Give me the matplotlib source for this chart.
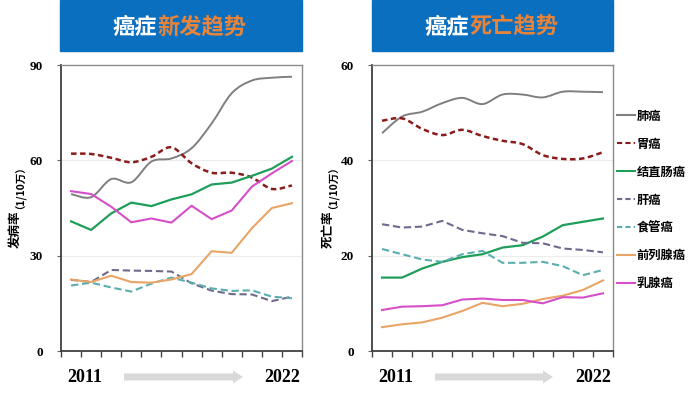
import matplotlib
matplotlib.use("Agg")
import matplotlib.pyplot as plt
import numpy as np
from matplotlib.path import Path
from matplotlib.patches import PathPatch, FancyArrow
from matplotlib.lines import Line2D

plt.rcParams["font.family"] = ["Noto Sans CJK SC", "DejaVu Sans"]

years = list(range(2011, 2023))
cancers = ["肺癌", "胃癌", "结直肠癌", "肝癌", "食管癌", "前列腺癌", "乳腺癌"]

# incidence (1/10万)
inc_lung = [49.4, 48.4, 54.1, 53.1, 59.6, 60.6, 63.8, 71.6, 81.1, 85.1, 86.0, 86.3]
inc_stomach = [62.1, 62.0, 60.8, 59.4, 61.1, 64.1, 59.1, 56.1, 56.1, 54.6, 51.0, 52.1]
inc_colorectal = [40.8, 38.1, 43.3, 46.7, 45.6, 47.7, 49.3, 52.4, 53.0, 55.1, 57.4, 61.1]
inc_liver = [22.4, 21.7, 25.5, 25.3, 25.2, 25.0, 21.3, 19.0, 17.9, 17.8, 15.7, 17.1]
inc_esophagus = [20.6, 21.5, 20.0, 18.7, 21.2, 23.1, 21.5, 19.7, 18.9, 19.1, 17.1, 16.6]
inc_prostate = [22.5, 21.7, 23.7, 21.7, 21.5, 22.5, 24.2, 31.4, 30.9, 38.6, 45.0, 46.5]
inc_breast = [50.3, 49.4, 45.4, 40.5, 41.7, 40.4, 45.7, 41.5, 44.2, 51.7, 55.9, 59.8]

# mortality (1/10万)
mor_lung = [45.7, 49.2, 50.2, 52.0, 53.1, 51.8, 53.8, 53.8, 53.2, 54.4, 54.4, 54.3]
mor_stomach = [48.3, 48.8, 46.6, 45.3, 46.4, 45.1, 44.1, 43.4, 41.1, 40.3, 40.4, 41.7]
mor_colorectal = [15.4, 15.4, 17.3, 18.7, 19.7, 20.3, 21.7, 22.2, 24.0, 26.4, 27.1, 27.8]
mor_liver = [26.6, 25.9, 26.1, 27.3, 25.4, 24.7, 24.1, 22.7, 22.6, 21.5, 21.2, 20.7]
mor_esophagus = [21.4, 20.3, 19.2, 18.7, 20.3, 21.0, 18.5, 18.5, 18.7, 17.8, 15.9, 17.0]
mor_prostate = [5.0, 5.6, 6.0, 7.0, 8.4, 10.1, 9.4, 9.9, 10.9, 11.6, 12.8, 14.8]
mor_breast = [8.6, 9.3, 9.4, 9.6, 10.8, 11.0, 10.7, 10.7, 10.0, 11.3, 11.2, 12.1]

incidence = [inc_lung, inc_stomach, inc_colorectal, inc_liver, inc_esophagus, inc_prostate, inc_breast]
mortality = [mor_lung, mor_stomach, mor_colorectal, mor_liver, mor_esophagus, mor_prostate, mor_breast]

colors = ["#7f7f7f", "#8b1c1c", "#1f9e5a", "#6e6a8c", "#5aaeb0", "#e8a566", "#d64fc8"]
styles = [
    dict(ls="-", lw=1.4, smooth=True),
    dict(ls=(0, (2.2, 1.4)), lw=1.8, smooth=True),
    dict(ls="-", lw=1.6, smooth=False),
    dict(ls=(0, (3.5, 1.8)), lw=1.5, smooth=False),
    dict(ls=(0, (3.5, 1.8)), lw=1.5, smooth=False),
    dict(ls="-", lw=1.5, smooth=False),
    dict(ls="-", lw=1.5, smooth=False),
]

SERIF = "Liberation Serif"
BLUE = "#0b6fc0"
ORANGE = "#e8843a"


def smooth_line(ax, x, y, color, ls, lw):
    # Excel-like smoothed line: Catmull-Rom through the points as cubic Beziers
    pts = np.column_stack([x, y]).astype(float)
    n = len(pts)
    verts = [pts[0]]
    codes = [Path.MOVETO]
    for i in range(n - 1):
        p0 = pts[i - 1] if i > 0 else pts[i]
        p1, p2 = pts[i], pts[i + 1]
        p3 = pts[i + 2] if i + 2 < n else pts[i + 1]
        verts += [p1 + (p2 - p0) / 6, p2 - (p3 - p1) / 6, p2]
        codes += [Path.CURVE4] * 3
    ax.add_patch(PathPatch(Path(verts, codes), fill=False, edgecolor=color,
                           linestyle=ls, lw=lw, capstyle="butt"))


def draw_panel(ax, series, ymax, step):
    x = np.arange(len(years))
    for vals, c, st in zip(series, colors, styles):
        if st["smooth"]:
            smooth_line(ax, x, vals, c, st["ls"], st["lw"])
        else:
            ax.plot(x, vals, color=c, ls=st["ls"], lw=st["lw"])
    ax.set_xlim(-0.5, len(years) - 0.5)
    ax.set_ylim(0, ymax)
    ax.set_xticks(np.arange(-0.5, len(years)))
    ax.set_xticklabels([])
    yt = np.arange(0, ymax + 1, step)
    ax.set_yticks(yt)
    ax.set_yticklabels([str(v) for v in yt], family=SERIF, fontweight="bold", fontsize=9.5)
    ax.tick_params(axis="x", direction="out", length=4, width=1, color="#444444")
    ax.tick_params(axis="y", direction="out", length=3, width=0.8, color="#666666", pad=10)
    for v in yt[1:-1]:
        ax.axhline(v, color="#ececec", lw=0.8, zorder=0)
    for side in ["left", "bottom"]:
        ax.spines[side].set_color("#404040")
        ax.spines[side].set_linewidth(1.3)
    for side in ["top", "right"]:
        ax.spines[side].set_color("#8a8a8a")
        ax.spines[side].set_linewidth(1.0)


fig = plt.figure(figsize=(7.0, 3.94), dpi=100)
W, H = 700, 394


def fx(px):
    return px / W


def fy(py):
    return 1 - py / H


ax1 = fig.add_axes([fx(61), fy(351), fx(302 - 61), (351 - 65) / H])
ax2 = fig.add_axes([fx(372), fy(351), fx(613 - 372), (351 - 65) / H])
draw_panel(ax1, incidence, 90, 30)
draw_panel(ax2, mortality, 60, 20)

# banners
for (l, r, split, rest) in [(60, 302, 157.5, "新发趋势"), (372, 613, 469.5, "死亡趋势")]:
    fig.patches.append(plt.Rectangle((fx(l), fy(51)), fx(r - l), 51 / H,
                                     transform=fig.transFigure, color=BLUE, zorder=0))
    fig.text(fx(split), fy(27), "癌症", color="white", fontsize=16, fontweight="bold",
             ha="right", va="center")
    fig.text(fx(split), fy(27), rest, color=ORANGE, fontsize=16, fontweight="bold",
             ha="left", va="center")

# y labels
for xpos, lab in [(15, "发病率"), (328, "死亡率")]:
    fig.text(fx(xpos), fy(211), lab, rotation=90, fontsize=9, fontweight="bold",
             ha="center", va="top")
    fig.text(fx(xpos), fy(209), "（1/10万）", rotation=90, fontsize=7.5, fontweight="bold",
             ha="center", va="bottom")

# year labels and arrows
for (a, b, s, e) in [(85, 282, 124, 243), (396, 593, 435, 553)]:
    fig.text(fx(a), fy(377), "2011", family=SERIF, fontweight="bold", fontsize=13,
             ha="center", va="center")
    fig.text(fx(b), fy(377), "2022", family=SERIF, fontweight="bold", fontsize=13,
             ha="center", va="center")
    fig.patches.append(FancyArrow(fx(s), fy(377), fx(e - s), 0, width=7 / H,
                                  head_width=13 / H, head_length=fx(10),
                                  length_includes_head=True, transform=fig.transFigure,
                                  color="#d9d9d9", lw=0))

# legend
handles = [Line2D([], [], color=c, ls=st["ls"] if isinstance(st["ls"], str) else (0, (2.5, 1.5)),
                  lw=1.5) for c, st in zip(colors, styles)]
leg = fig.legend(handles, cancers, loc="center left", bbox_to_anchor=(fx(613), fy(200)),
                 frameon=False, prop={"family": ["Noto Sans CJK SC"], "weight": "bold", "size": 8.8},
                 handlelength=1.5, handletextpad=0.15, labelspacing=1.22, borderaxespad=0,
                 borderpad=0.3)

fig.savefig("out.png", dpi=100)
